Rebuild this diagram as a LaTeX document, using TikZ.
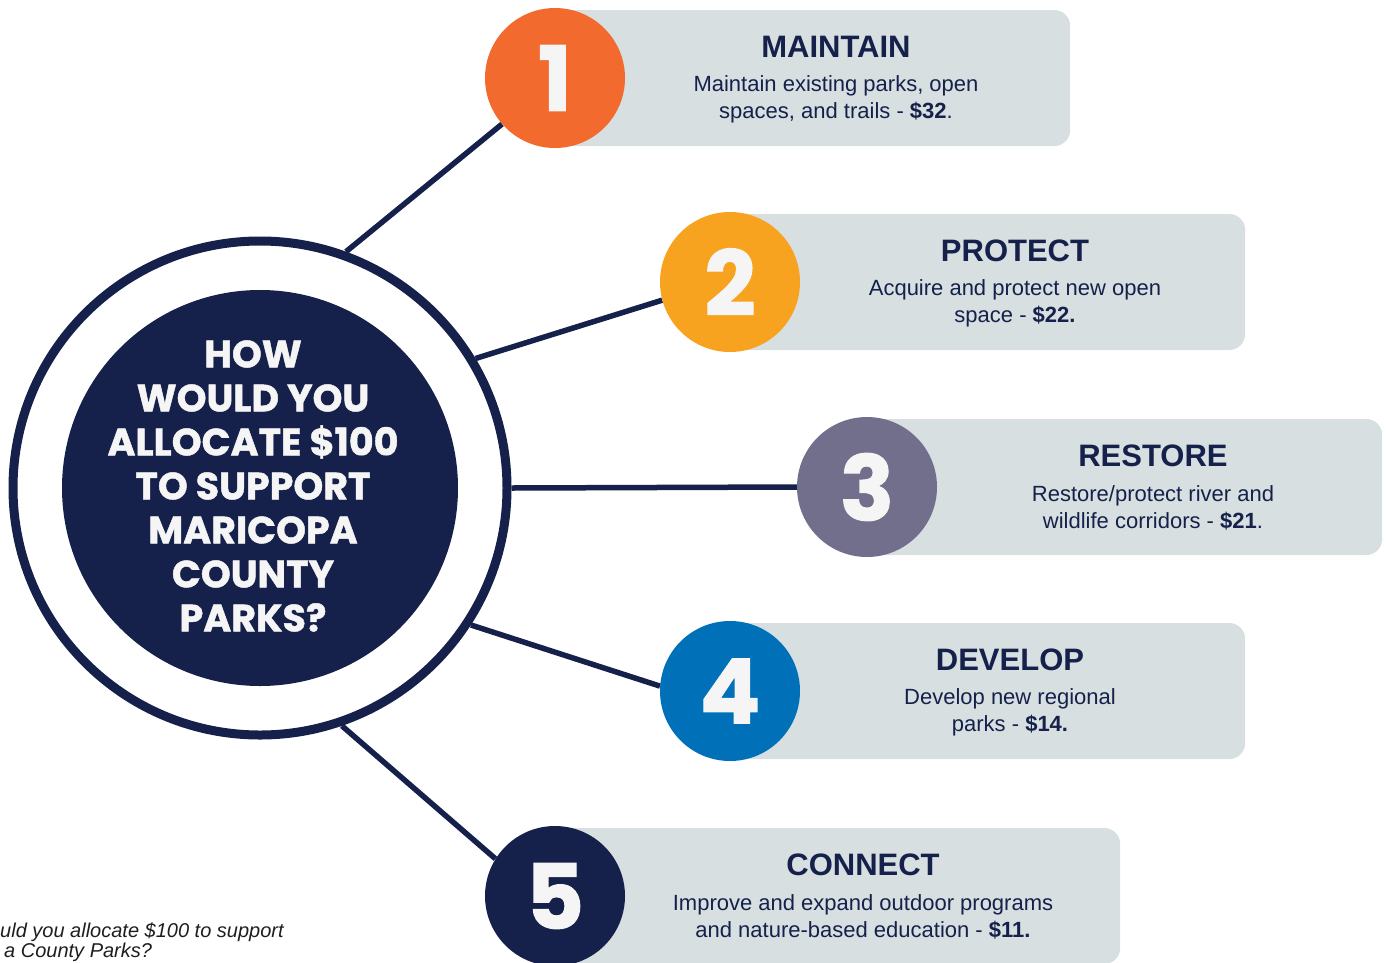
\documentclass[tikz,border=0pt]{standalone}
\usepackage{fontspec}
\setmainfont{Liberation Sans}
\newfontfamily\popfont{Poppins}[BoldFeatures={FakeBold=1.2}]
\usetikzlibrary{backgrounds}
\definecolor{navy}{HTML}{15214A}
\definecolor{boxgray}{HTML}{D7DFE1}
\definecolor{numwhite}{HTML}{F5F5F5}
\definecolor{orangeone}{HTML}{F26A2D}
\definecolor{yellowtwo}{HTML}{F8A31F}
\definecolor{greythree}{HTML}{716F8B}
\definecolor{bluefour}{HTML}{0070B9}
\definecolor{captiongray}{HTML}{1E1E1E}

\begin{document}
\begin{tikzpicture}[x=1pt,y=-1pt,
  numcirc/.style={circle,minimum size=140pt,inner sep=0pt,text=numwhite,
    font=\popfont\bfseries\fontsize{90}{90}\selectfont},
  infobox/.style={fill=boxgray,rounded corners=16pt,minimum height=136pt,
    anchor=west,inner sep=0pt},
  boxtitle/.style={text=navy,font=\bfseries\fontsize{31}{31}\selectfont},
  boxtext/.style={text=navy,align=center,inner sep=0pt,
    font=\fontsize{22}{27}\selectfont},
  link/.style={draw=navy,line width=5.5pt},
  caption/.style={anchor=base west,inner sep=0pt,text=captiongray,
    font=\itshape\fontsize{20}{20}\selectfont}]
  \useasboundingbox (0,0) rectangle (1387,962);

  % centre question
  \node[circle,draw=navy,line width=9pt,minimum size=494pt,inner sep=0pt] (ring) at (260,488) {};
  \node[circle,fill=navy,minimum size=396pt,inner sep=0pt] (disc) at (260,488) {};
  \node[text=numwhite,align=center,inner sep=0pt,
    font=\popfont\bfseries\fontsize{38}{44}\selectfont] (question) at (253,486)
    {HOW\\WOULD YOU\\ALLOCATE \$100\\TO SUPPORT\\MARICOPA\\COUNTY\\PARKS?};

  % the five budget items
  \foreach \i/\cx/\cy/\w/\tx/\col/\ttl/\dsc in {
      1/555/78/515/836/orangeone/MAINTAIN/{Maintain existing parks, open\\spaces, and trails - \textbf{\$32}.},
      2/730/282/515/1015/yellowtwo/PROTECT/{Acquire and protect new open\\space - \textbf{\$22.}},
      3/867/487/515/1153/greythree/RESTORE/{Restore/protect river and\\wildlife corridors - \textbf{\$21}.},
      4/730/691/515/1010/bluefour/DEVELOP/{Develop new regional\\parks - \textbf{\$14.}},
      5/555/896/565/863/navy/CONNECT/{Improve and expand outdoor programs\\and nature-based education - \textbf{\$11.}}} {
    \node[numcirc,fill=\col] (num\i) at (\cx,\cy) {\i};
    \begin{pgfonlayer}{background}
      \node[infobox,minimum width=\w pt] (box\i) at (\cx,\cy) {};
    \end{pgfonlayer}
    \node[boxtitle] (title\i) at (\tx,\cy-31) {\ttl};
    \node[boxtext] (text\i) at (\tx,\cy+21) {\dsc};
  }

  % connectors
  \begin{pgfonlayer}{background}
    \foreach \i/\a/\b in {1/70/221,2/31/195,3/0/180,4/-33/176,5/-71/148}
      \draw[link] (ring.\a) -- (num\i.\b);
  \end{pgfonlayer}

  % caption
  \node[caption] (caption1) at (0,937) {uld you allocate \$100 to support};
  \node[caption] (caption2) at (4,957) {a County Parks?};
\end{tikzpicture}
\end{document}
